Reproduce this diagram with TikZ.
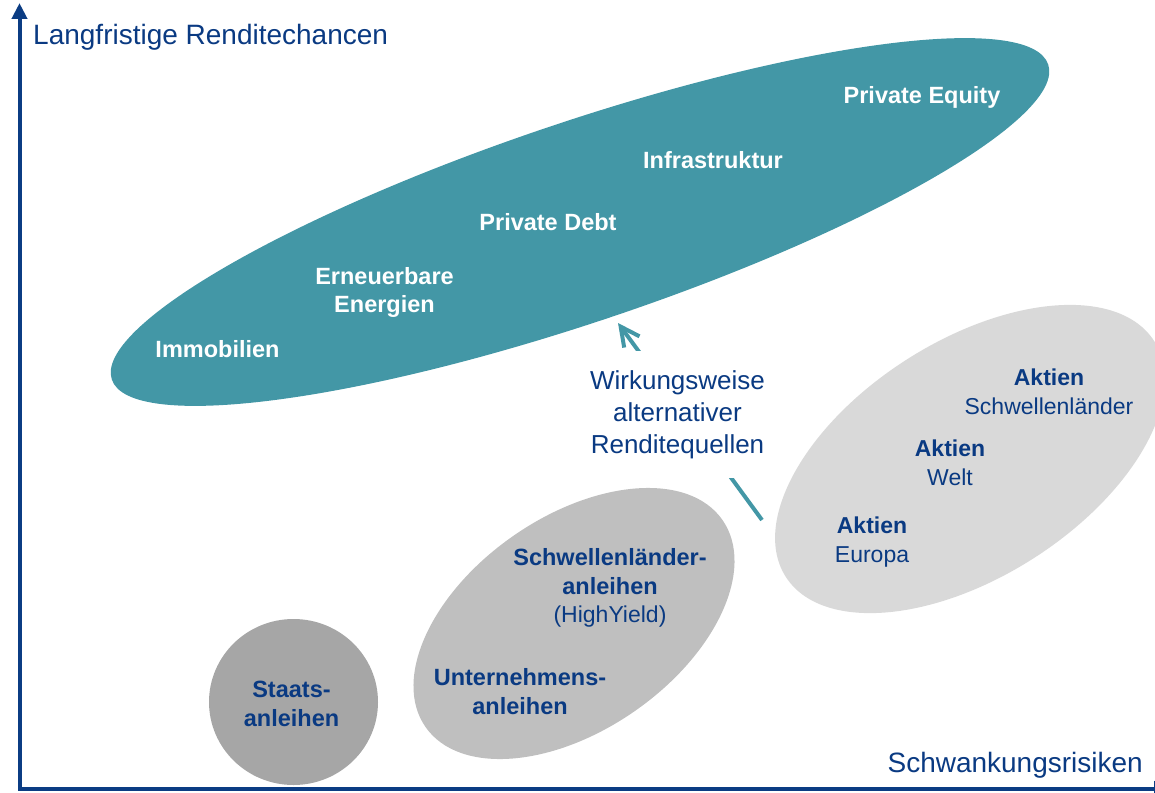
\documentclass[tikz,border=0pt]{standalone}
\usepackage{fontspec}
\setmainfont{Liberation Sans}
\usetikzlibrary{arrows.meta}
\definecolor{tealA}{HTML}{4397A6}
\definecolor{grayA}{HTML}{D9D9D9}
\definecolor{grayB}{HTML}{BFBFBF}
\definecolor{grayC}{HTML}{A6A6A6}
\definecolor{navy}{HTML}{0A3A82}
\definecolor{axisblue}{HTML}{0B3C83}
\begin{document}
\begin{tikzpicture}[x=1pt,y=-1pt,
  wlbl/.style={inner sep=0pt, align=center, text=white, font=\fontsize{23.5}{28}\selectfont\bfseries},
  blbl/.style={inner sep=0pt, align=center, text=navy, font=\fontsize{23.5}{29}\selectfont\bfseries},
  mlbl/.style={inner sep=0pt, align=center, text=navy, font=\fontsize{23}{29}\selectfont},
  axlbl/.style={inner sep=0pt, text=navy, font=\fontsize{28}{34}\selectfont},
  axisline/.style={axisblue, line width=4pt, line join=miter, {Triangle[length=16pt,width=15pt]}-{Triangle[length=16pt,width=15pt]}},
  flow/.style={tealA, line width=4pt, -{Straight Barb[length=19pt,width=19pt,line width=4pt]}}
]
\useasboundingbox (0,0) rectangle (1155,792);
% clusters
\fill[tealA, rotate around={18.6:(580,222)}] (580,222) ellipse [x radius=494, y radius=100];
\fill[grayA, rotate around={32.6:(970,459)}] (970,459) ellipse [x radius=218.7, y radius=117.9];
\fill[grayB, rotate around={34.9:(574,623.5)}] (574,623.5) ellipse [x radius=181, y radius=106.6];
\fill[grayC] (293.5,702) ellipse [x radius=84.5, y radius=83];
% axes
\coordinate (yT) at (19.5,3);
\coordinate (O) at (19.5,789);
\coordinate (xT) at (1170,789);
\draw[axisline] (yT) -- (O) -- (xT);
\node[axlbl, anchor=base west] (ylab) at (33,45) {Langfristige Renditechancen};
\node[axlbl, anchor=base east] (xlab) at (1143,772) {Schwankungsrisiken};
% arrow
\coordinate (aS) at (762,520);
\coordinate (aT) at (618,323);
\draw[flow] (aS) -- (aT);
\node[fill=white, inner xsep=2pt, inner ysep=19pt, text=navy, align=center, font=\fontsize{26}{32}\selectfont] (wirk) at (677.5,414.5) {Wirkungsweise\\alternativer\\Renditequellen};
% teal labels
\node[wlbl] (pe) at (922,97.5) {Private Equity};
\node[wlbl] (inf) at (713,160) {Infrastruktur};
\node[wlbl] (pd) at (548,222.5) {Private Debt};
\node[wlbl] (ee) at (384.5,292.5) {Erneuerbare\\Energien};
\node[wlbl] (imm) at (217.5,349) {Immobilien};
% equities
\node[mlbl] (aks) at (1049,392.2) {\textbf{Aktien}\\Schwellenländer};
\node[mlbl] (akw) at (950,462.8) {\textbf{Aktien}\\Welt};
\node[mlbl] (ake) at (872,541.6) {\textbf{Aktien}\\Europa};
% bonds
\node[mlbl, font=\fontsize{23}{28.5}\selectfont] (sla) at (610,588) {\textbf{\fontsize{23.5}{28.5}\selectfont Schwellenländer-}\\\textbf{\fontsize{23.5}{28.5}\selectfont anleihen}\\(HighYield)};
\node[blbl, font=\fontsize{23.5}{29.5}\selectfont\bfseries] (una) at (520,691.7) {Unternehmens-\\anleihen};
\node[blbl] (sta) at (291.5,704) {Staats-\\anleihen};
\end{tikzpicture}
\end{document}
